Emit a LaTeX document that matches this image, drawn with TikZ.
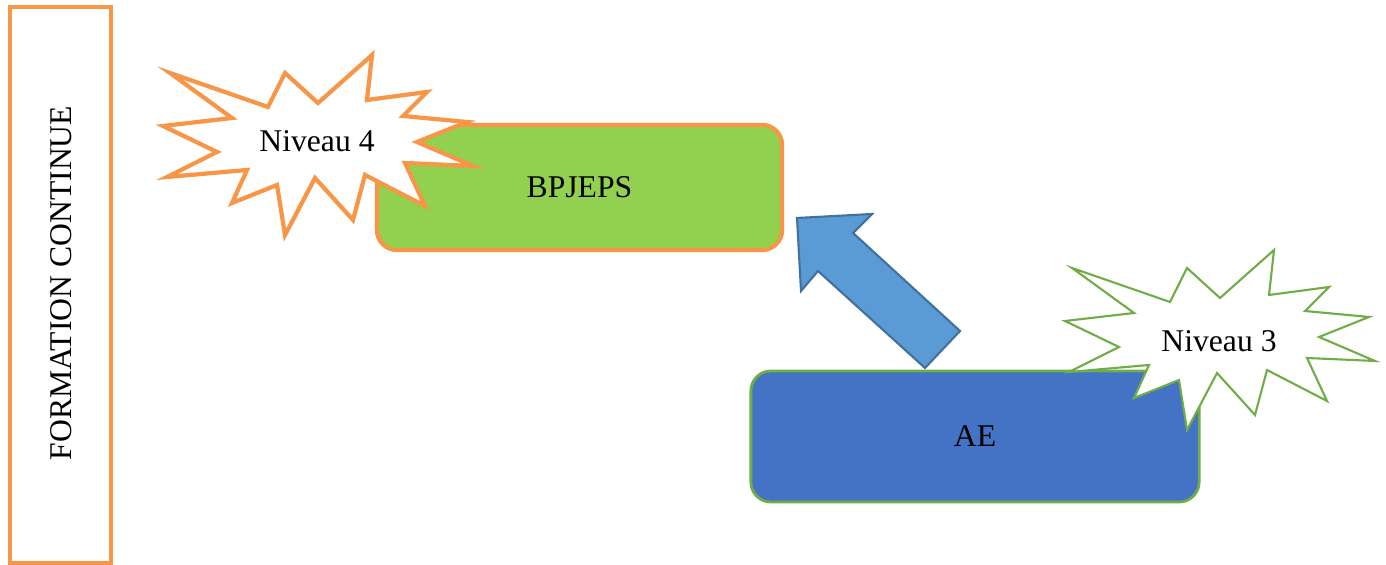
\documentclass[tikz,border=0pt]{standalone}
\usepackage{fontspec}
\setmainfont{Liberation Serif}
\usetikzlibrary{positioning}
\definecolor{orangeF}{HTML}{F79646}
\definecolor{vertF}{HTML}{92D050}
\definecolor{vertB}{HTML}{70AD47}
\definecolor{bleuF}{HTML}{4472C4}
\definecolor{bleuC}{HTML}{5B9BD5}
\definecolor{bleuB}{HTML}{41719C}

\tikzset{
  eclat/.pic={
    \path[pic actions] (-147,-70) -- (-49,-36) -- (-32,-70) -- (1,-40) -- (55,-88)
      -- (50,-43) -- (110,-51) -- (86,-27) -- (150,-21) -- (100,-1) -- (156,23)
      -- (88,20) -- (108,63) -- (48,32) -- (36,77) -- (-2,35) -- (-32,92)
      -- (-40,42) -- (-85,60) -- (-70,27) -- (-150,34) -- (-100,9) -- (-154,-17)
      -- (-85,-25) -- cycle;
  },
  boite/.style={rounded corners=0.2cm,inner sep=0pt}
}

\begin{document}
\begin{tikzpicture}[x=0.01cm,y=-0.01cm,font=\fontsize{9}{11}\selectfont]
\useasboundingbox (0,0) rectangle (1386,565);

% cadre gauche
\node[draw=orangeF,line width=1.3pt,minimum width=1.01cm,minimum height=5.56cm,inner sep=0pt] (fc) at (60.5,285) {};
\node[rotate=90] (fctxt) at (61,283) {FORMATION CONTINUE};

% niveau 4
\node[boite,draw=orangeF,fill=vertF,line width=1.2pt,minimum width=4.05cm,minimum height=1.25cm] (bp) at (579.5,187.5) {BPJEPS};
\pic[draw=orangeF,fill=white,line width=1.2pt] at (317,143) {eclat};
\node (n4) at (317,141) {Niveau 4};

% fleche
\coordinate (pointe) at (797,218);
\fill[bleuC,draw=bleuB,line width=0.6pt,line join=miter] (pointe) -- (872,214) -- (853,233) -- (960,331)
  -- (925,368) -- (818,271) -- (801,291) -- cycle;

% niveau 3
\node[boite,draw=vertB,fill=bleuF,line width=0.8pt,minimum width=4.48cm,minimum height=1.31cm] (ae) at (975,436.5) {AE};
\pic[draw=vertB,fill=white,line width=0.6pt] at (1219,338) {eclat};
\node (n3) at (1219,341) {Niveau 3};

\end{tikzpicture}
\end{document}
